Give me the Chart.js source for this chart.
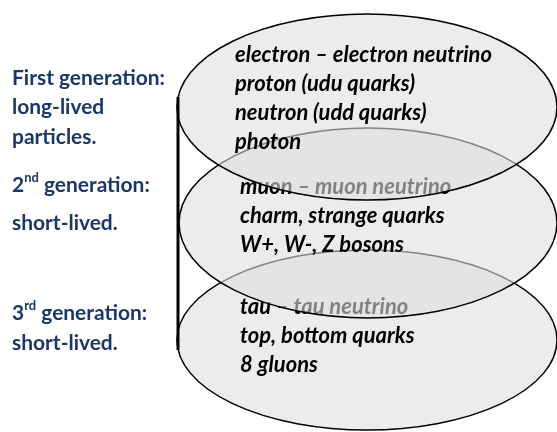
<!DOCTYPE html>
<html><head><meta charset="utf-8">
<script src="https://cdn.jsdelivr.net/npm/chart.js@4/dist/chart.umd.min.js"></script>
<style>html,body{margin:0;padding:0;background:#fff;overflow:hidden}#wrap{width:557px;height:432px;position:relative}</style>
</head><body><div id="wrap"><canvas id="c" width="557" height="432"></canvas></div>
<script>
// ---- content ----
const generations = ["First generation:", "2nd generation:", "3rd generation:"];
const lifetimes = [["long-lived", "particles."], ["short-lived."], ["short-lived."]];
const particles = [
  ["electron \u2013 electron neutrino", "proton (udu quarks)", "neutron (udd quarks)", "photon"],
  ["muon \u2013 muon neutrino", "charm, strange quarks", "W+, W-, Z bosons"],
  ["tau \u2013 tau neutrino", "top, bottom quarks", "8 gluons"]
];

// ---- layout (axis units = pixels of the frame) ----
const tierShapes = [
  {cx: 367, cy: 107, rx: 190, ry: 93},
  {cx: 368, cy: 223, rx: 189, ry: 95},
  {cx: 367, cy: 340, rx: 190, ry: 90}
];
const tierText = [{x: 235, y: 55}, {x: 240, y: 187}, {x: 240, y: 307}];
const textStep = 29;
const labelX = 12;
const labelLineY = [[78, 107, 137], [185, 223], [313, 343]];
const bracket = {x: 178, y0: 97, y1: 350};
const labelFontTarget = 153;   // width of "First generation:"
const particleFontTarget = 257; // width of first particle line
const FONT = 'Lato';

const FILL = 'rgba(222,222,222,0.58)';
const LABEL_COLOR = '#1a3766';

function fitSize(ctx, text, weightStyle, target) {
  ctx.font = weightStyle + ' 20px ' + FONT;
  const w = ctx.measureText(text).width;
  return 20 * target / w;
}

function drawGenLabel(ctx, text, x, y, size) {
  const m = text.match(/^(\d)(st|nd|rd|th)(.*)$/);
  ctx.font = 'bold ' + size + 'px ' + FONT;
  if (!m) { ctx.fillText(text, x, y); return; }
  ctx.fillText(m[1], x, y);
  let cx = x + ctx.measureText(m[1]).width;
  ctx.font = 'bold ' + (size * 0.62) + 'px ' + FONT;
  ctx.fillText(m[2], cx, y - size * 0.34);
  cx += ctx.measureText(m[2]).width;
  ctx.font = 'bold ' + size + 'px ' + FONT;
  ctx.fillText(m[3], cx, y);
}

const diagramPlugin = {
  id: 'generations',
  afterDatasetsDraw(chart) {
    const ctx = chart.ctx;
    const xs = chart.scales.x, ys = chart.scales.y;
    const X = v => xs.getPixelForValue(v), Y = v => ys.getPixelForValue(v);
    ctx.save();
    const pSize = fitSize(ctx, particles[0][0], 'italic bold', particleFontTarget);
    // draw bottom tier first so upper tiers overlay it
    for (let i = tierShapes.length - 1; i >= 0; i--) {
      const s = tierShapes[i];
      ctx.beginPath();
      ctx.ellipse(X(s.cx), Y(s.cy), Math.abs(X(s.cx + s.rx) - X(s.cx)), Math.abs(Y(s.cy + s.ry) - Y(s.cy)), 0, 0, Math.PI * 2);
      ctx.fillStyle = FILL;
      ctx.fill();
      ctx.lineWidth = 1.5;
      ctx.strokeStyle = '#000';
      ctx.stroke();
      ctx.fillStyle = '#000';
      ctx.textBaseline = 'middle';
      ctx.textAlign = 'left';
      ctx.font = 'italic bold ' + pSize + 'px ' + FONT;
      particles[i].forEach((line, k) => {
        ctx.fillText(line, X(tierText[i].x), Y(tierText[i].y + k * textStep));
      });
    }
    // bracket line
    ctx.beginPath();
    ctx.moveTo(X(bracket.x), Y(bracket.y0));
    ctx.lineTo(X(bracket.x), Y(bracket.y1));
    ctx.lineWidth = 3;
    ctx.strokeStyle = '#000';
    ctx.stroke();
    // generation labels
    const lSize = fitSize(ctx, generations[0], 'bold', labelFontTarget);
    ctx.fillStyle = LABEL_COLOR;
    ctx.textBaseline = 'middle';
    generations.forEach((g, i) => {
      const ys2 = labelLineY[i];
      drawGenLabel(ctx, g, X(labelX), Y(ys2[0]), lSize);
      ctx.font = 'bold ' + lSize + 'px ' + FONT;
      lifetimes[i].forEach((t, k) => ctx.fillText(t, X(labelX), Y(ys2[k + 1])));
    });
    ctx.restore();
  }
};

new Chart(document.getElementById('c'), {
  type: 'scatter',
  data: { datasets: [{ data: [], showLine: false }] },
  options: {
    responsive: false,
    animation: false,
    events: [],
    layout: { padding: 0 },
    plugins: { legend: { display: false }, tooltip: { enabled: false } },
    scales: {
      x: { type: 'linear', min: 0, max: 557, display: false },
      y: { type: 'linear', min: 0, max: 432, reverse: true, display: false }
    }
  },
  plugins: [diagramPlugin]
});
</script>
</body></html>
